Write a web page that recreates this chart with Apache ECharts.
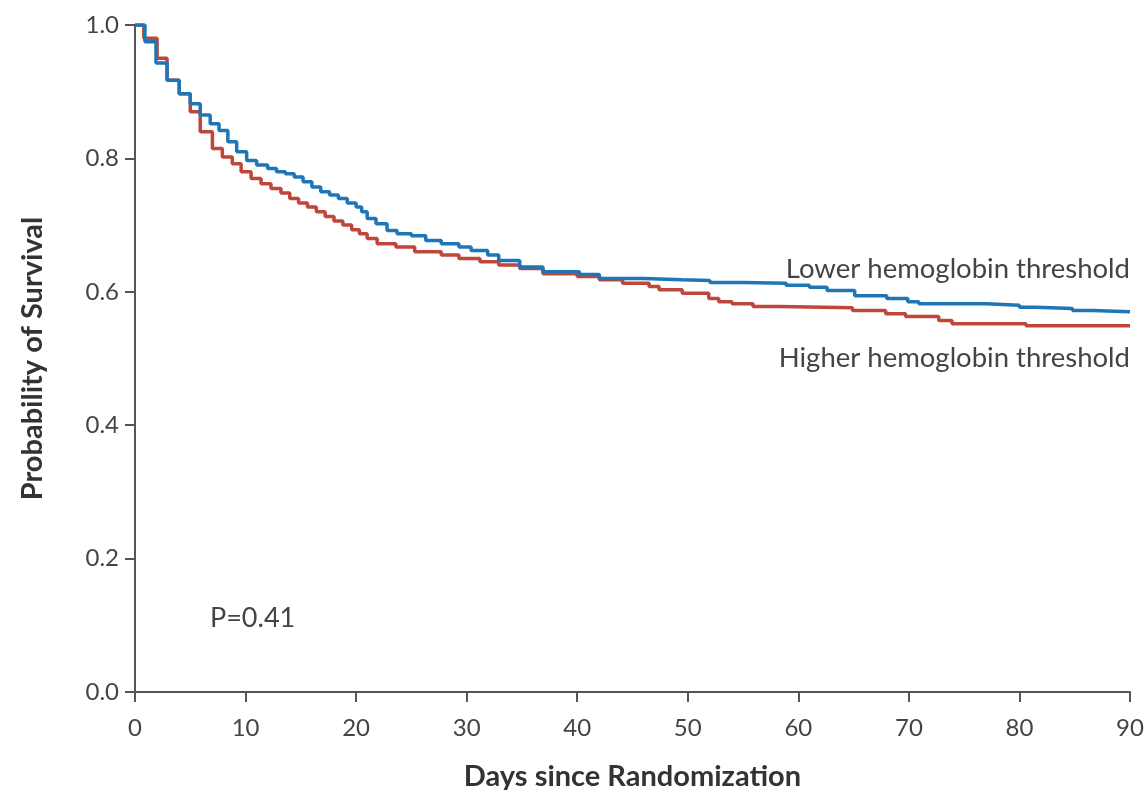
<!DOCTYPE html>
<html>
<head>
<meta charset="utf-8">
<script src="https://cdn.jsdelivr.net/npm/echarts@6/dist/echarts.min.js"></script>
<style>
html,body{margin:0;padding:0;background:#fff;}
#chart{width:1148px;height:790px;}
</style>
</head>
<body>
<div id="chart"></div>
<script>
// Kaplan-Meier survival
var lowerDays = [0, 0.9, 1.9, 2.9, 4.0, 5.0, 5.9, 6.8, 7.6, 8.4, 9.2, 10.1, 11.0, 12.0, 12.8, 13.6, 14.4, 15.2, 16.0, 16.8, 17.6, 18.4, 19.2, 20.0, 20.5, 21.0, 21.8, 22.8, 23.7, 25.0, 26.3, 27.7, 29.3, 30.4, 31.9, 32.9, 34.8, 36.9, 40.2, 42.0, 46.0, 49.5, 52.0, 55.0, 58.9, 61.0, 62.6, 65.1, 68.0, 69.9, 70.9, 77.0, 80.0, 81.5, 84.8, 86.6, 90];
var lowerSurv = [1.0, 0.975, 0.943, 0.917, 0.897, 0.882, 0.865, 0.852, 0.842, 0.825, 0.81, 0.797, 0.79, 0.785, 0.78, 0.777, 0.772, 0.765, 0.757, 0.75, 0.745, 0.74, 0.733, 0.727, 0.72, 0.71, 0.702, 0.692, 0.687, 0.684, 0.677, 0.672, 0.667, 0.662, 0.655, 0.647, 0.637, 0.63, 0.626, 0.62, 0.618, 0.617, 0.614, 0.613, 0.61, 0.607, 0.602, 0.594, 0.59, 0.585, 0.582, 0.58, 0.577, 0.575, 0.572, 0.57, 0.569];
var higherDays = [0, 0.8, 2.0, 2.9, 4.0, 5.0, 5.9, 7.0, 7.9, 8.8, 9.6, 10.5, 11.4, 12.3, 13.2, 14.0, 14.8, 15.6, 16.4, 17.2, 18.0, 18.8, 19.6, 20.3, 21.0, 21.9, 23.6, 25.3, 27.7, 29.3, 31.2, 32.9, 34.8, 36.9, 40.0, 42.0, 44.1, 46.5, 47.4, 49.5, 51.9, 52.8, 54.0, 55.9, 58.3, 64.9, 67.9, 69.7, 72.7, 73.9, 80.6, 90];
var higherSurv = [1.0, 0.98, 0.95, 0.917, 0.897, 0.87, 0.84, 0.815, 0.802, 0.792, 0.78, 0.77, 0.762, 0.755, 0.748, 0.74, 0.733, 0.727, 0.72, 0.713, 0.706, 0.7, 0.693, 0.687, 0.68, 0.672, 0.667, 0.66, 0.655, 0.65, 0.645, 0.64, 0.635, 0.627, 0.623, 0.618, 0.613, 0.608, 0.603, 0.598, 0.59, 0.585, 0.582, 0.578, 0.576, 0.572, 0.567, 0.563, 0.557, 0.552, 0.549, 0.549];
var xTicks = [0, 10, 20, 30, 40, 50, 60, 70, 80, 90];
var yTicks = ['0.0', '0.2', '0.4', '0.6', '0.8', '1.0'];
var seriesNames = ['Lower hemoglobin threshold', 'Higher hemoglobin threshold'];
var pText = 'P=0.41';

function pairs(xs, ys) { return xs.map(function (x, i) { return [x, ys[i]]; }); }

var FONT = 'Lato';
var chart = echarts.init(document.getElementById('chart'));
chart.setOption({
  animation: false,
  backgroundColor: '#fff',
  grid: { left: 135, right: 18, top: 25, bottom: 98, containLabel: false, outerBoundsMode: 'none' },
  xAxis: {
    type: 'value', min: 0, max: 90, interval: 10,
    name: 'Days since Randomization', nameLocation: 'middle', nameGap: 70,
    nameTextStyle: { fontFamily: FONT, fontSize: 29, fontWeight: 'bold', color: '#333' },
    axisLine: { show: true, lineStyle: { color: '#555', width: 2 } },
    axisTick: { show: true, length: 10, lineStyle: { color: '#555', width: 2 } },
    axisLabel: { fontFamily: FONT, fontSize: 24, color: '#444', margin: 24,
      formatter: function (v) { return xTicks.indexOf(v) >= 0 ? String(v) : ''; } },
    splitLine: { show: false }
  },
  yAxis: {
    type: 'value', min: 0, max: 1, interval: 0.2,
    name: 'Probability of Survival', nameLocation: 'middle', nameGap: 88,
    nameTextStyle: { fontFamily: FONT, fontSize: 29, fontWeight: 'bold', color: '#333' },
    axisLine: { show: true, lineStyle: { color: '#555', width: 2 } },
    axisTick: { show: true, length: 10, lineStyle: { color: '#555', width: 2 } },
    axisLabel: { fontFamily: FONT, fontSize: 24, color: '#444', margin: 16,
      formatter: function (v) { return yTicks[Math.round(v / 0.2)]; } },
    splitLine: { show: false }
  },
  series: [
    { name: seriesNames[0], type: 'line', step: 'end', showSymbol: false, symbol: 'none',
      data: pairs(lowerDays, lowerSurv), lineStyle: { color: '#1f76b6', width: 3.5 }, z: 3 },
    { name: seriesNames[1], type: 'line', step: 'end', showSymbol: false, symbol: 'none',
      data: pairs(higherDays, higherSurv), lineStyle: { color: '#bf463a', width: 3.5 }, z: 2 }
  ],
  graphic: [
    { type: 'text', right: 18, top: 255, style: { text: seriesNames[0], fontFamily: FONT, fontSize: 27.5, fill: '#444' } },
    { type: 'text', right: 18, top: 344, style: { text: seriesNames[1], fontFamily: FONT, fontSize: 27.5, fill: '#444' } },
    { type: 'text', left: 210, top: 605, style: { text: pText, fontFamily: FONT, fontSize: 27, fill: '#444' } }
  ]
});
</script>
</body>
</html>
